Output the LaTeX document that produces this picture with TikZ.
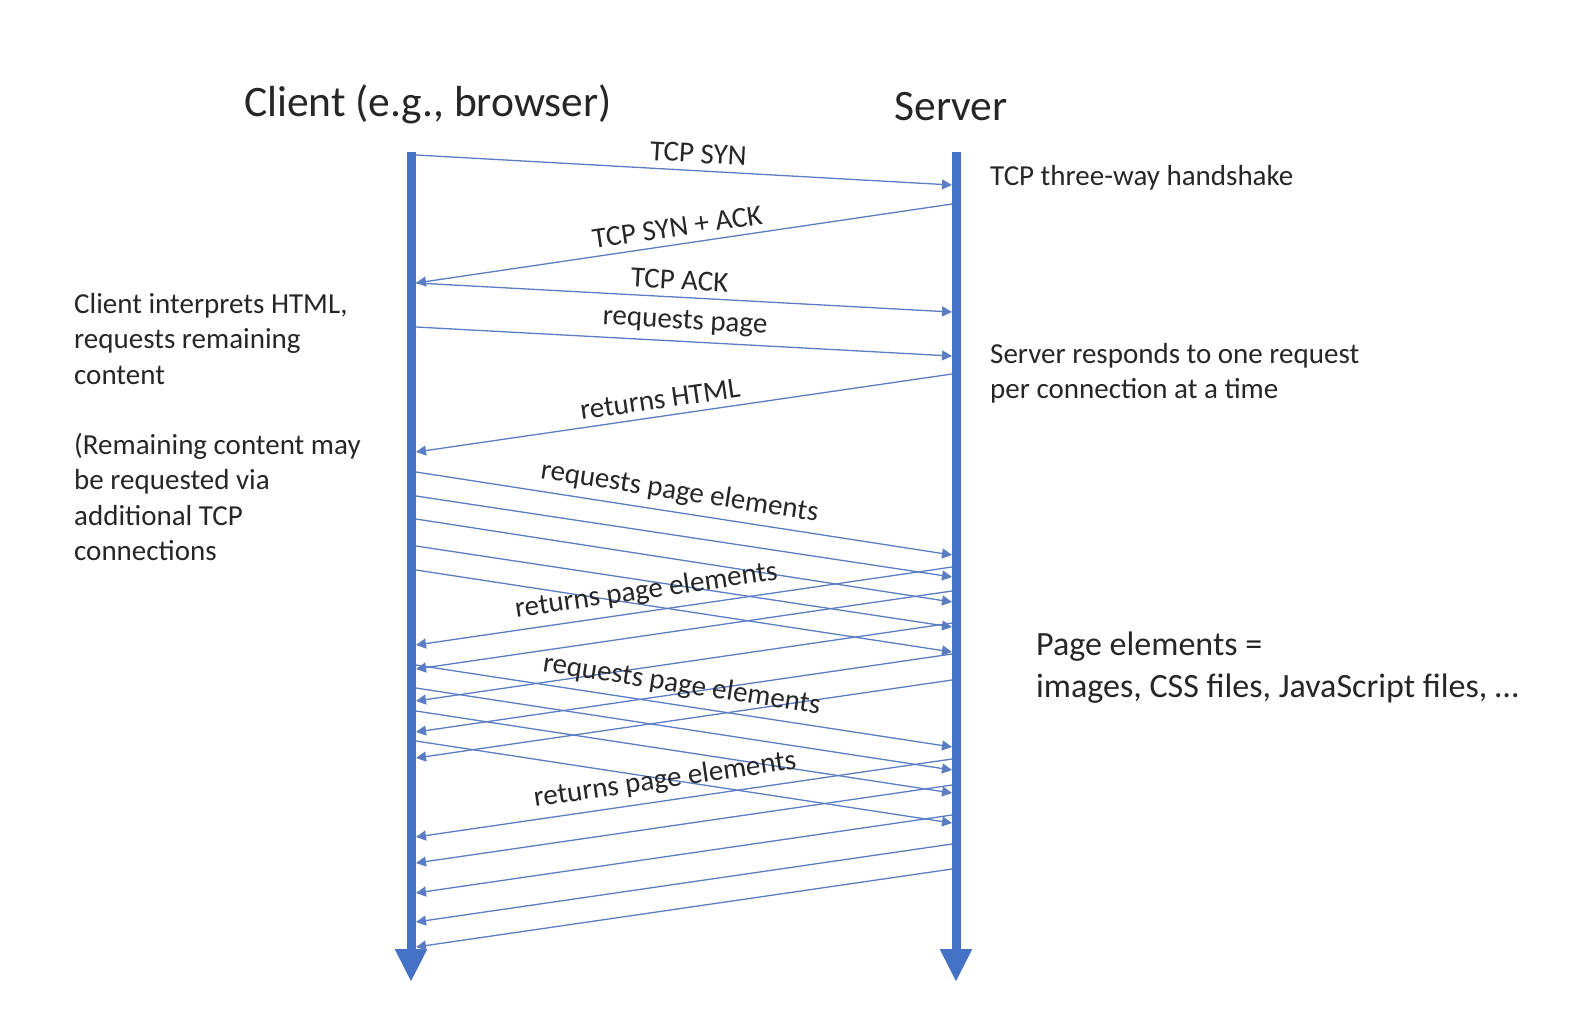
\documentclass[tikz,border=0pt]{standalone}
\usepackage{fontspec}
\setmainfont{Carlito}
\usetikzlibrary{arrows.meta}

\definecolor{lifeblue}{HTML}{4472C4}
\definecolor{msgblue}{HTML}{5B7DC4}
\definecolor{inkgray}{HTML}{262626}

\tikzset{
  lifeline/.style={line width=9pt, lifeblue, -{Triangle[length=33pt,width=30pt]}},
  msg/.style={line width=1.3pt, msgblue, -{Triangle[length=10pt,width=10pt]}},
  msglabel/.style={sloped, above=4pt, inner sep=3pt, text=inkgray,
    font=\fontsize{29}{35}\selectfont},
  note/.style={anchor=north west, align=left, inner sep=0pt, text=inkgray,
    font=\fontsize{29}{35.4}\selectfont},
  heading/.style={inner sep=0pt, text=inkgray, font=\fontsize{43.5}{52}\selectfont},
}

\begin{document}
\begin{tikzpicture}[x=1pt, y=-1pt]
  \useasboundingbox (0,0) rectangle (1582,1018);

  % the two ends of the connection
  \node[heading] (client) at (428,104) {Client (e.g., browser)};
  \node[heading] (server) at (951,107) {Server};

  \coordinate (ctop) at (411,152); \coordinate (cbot) at (411,982);
  \coordinate (stop) at (956,152); \coordinate (sbot) at (956,982);
  \draw[lifeline] (ctop) -- (cbot);
  \draw[lifeline] (stop) -- (sbot);

  % three-way handshake, then the page itself
  \coordinate (c1) at (416,155); \coordinate (s1) at (952,185);
  \coordinate (s2) at (952,204); \coordinate (c2) at (416,283);
  \coordinate (c3) at (416,283); \coordinate (s3) at (952,312);
  \coordinate (c4) at (416,327); \coordinate (s4) at (952,356);
  \coordinate (s5) at (952,374); \coordinate (c5) at (416,452);

  \draw[msg] (c1) -- node[msglabel, pos=0.525] {TCP SYN} (s1);
  \draw[msg] (s2) -- node[msglabel, pos=0.508] {TCP SYN + ACK} (c2);
  \draw[msg] (c3) -- node[msglabel, pos=0.49] {TCP ACK} (s3);
  \draw[msg] (c4) -- node[msglabel, pos=0.5] {requests page} (s4);
  \draw[msg] (s5) -- node[msglabel, pos=0.54] {returns HTML} (c5);

  % first round of page elements
  \coordinate (ca1) at (416,472); \coordinate (sa1) at (952,555);
  \coordinate (ca2) at (416,496); \coordinate (sa2) at (952,577);
  \coordinate (ca3) at (416,519); \coordinate (sa3) at (952,602);
  \coordinate (ca4) at (416,546); \coordinate (sa4) at (952,627);
  \coordinate (ca5) at (416,570); \coordinate (sa5) at (952,652);

  \draw[msg] (ca1) -- node[msglabel, pos=0.486] {requests page elements} (sa1);
  \draw[msg] (ca2) -- (sa2);
  \draw[msg] (ca3) -- (sa3);
  \draw[msg] (ca4) -- (sa4);
  \draw[msg] (ca5) -- (sa5);

  \coordinate (sb1) at (952,567); \coordinate (cb1) at (416,645);
  \coordinate (sb2) at (952,591); \coordinate (cb2) at (416,669);
  \coordinate (sb3) at (952,623); \coordinate (cb3) at (416,701);
  \coordinate (sb4) at (952,654); \coordinate (cb4) at (416,732);
  \coordinate (sb5) at (952,680); \coordinate (cb5) at (416,758);

  \draw[msg] (sb1) -- node[msglabel, pos=0.565] {returns page elements} (cb1);
  \draw[msg] (sb2) -- (cb2);
  \draw[msg] (sb3) -- (cb3);
  \draw[msg] (sb4) -- (cb4);
  \draw[msg] (sb5) -- (cb5);

  % second round of page elements
  \coordinate (cc1) at (416,665); \coordinate (sc1) at (952,747);
  \coordinate (cc2) at (416,688); \coordinate (sc2) at (952,770);
  \coordinate (cc3) at (416,711); \coordinate (sc3) at (952,793);
  \coordinate (cc4) at (416,741); \coordinate (sc4) at (952,823);

  \draw[msg] (cc1) -- node[msglabel, pos=0.49] {requests page elements} (sc1);
  \draw[msg] (cc2) -- (sc2);
  \draw[msg] (cc3) -- (sc3);
  \draw[msg] (cc4) -- (sc4);

  \coordinate (sd1) at (952,759); \coordinate (cd1) at (416,837);
  \coordinate (sd2) at (952,785); \coordinate (cd2) at (416,863);
  \coordinate (sd3) at (952,815); \coordinate (cd3) at (416,893);
  \coordinate (sd4) at (952,844); \coordinate (cd4) at (416,922);
  \coordinate (sd5) at (952,869); \coordinate (cd5) at (416,947);

  \draw[msg] (sd1) -- node[msglabel, pos=0.53] {returns page elements} (cd1);
  \draw[msg] (sd2) -- (cd2);
  \draw[msg] (sd3) -- (cd3);
  \draw[msg] (sd4) -- (cd4);
  \draw[msg] (sd5) -- (cd5);

  % side notes
  \node[note] (clientnote) at (74,293) {Client interprets HTML,\\
    requests remaining\\ content\\[35pt]
    (Remaining content may\\ be requested via\\ additional TCP\\ connections};
  \node[note, anchor=base west] (handshake) at (990,185) {TCP three-way handshake};
  \node[note] (servernote) at (990,343) {Server responds to one request\\
    per connection at a time};
  \node[note, font=\fontsize{34}{41.5}\selectfont] (elements) at (1036,632)
    {Page elements =\\ images, CSS files, JavaScript files, \dots};
\end{tikzpicture}
\end{document}
